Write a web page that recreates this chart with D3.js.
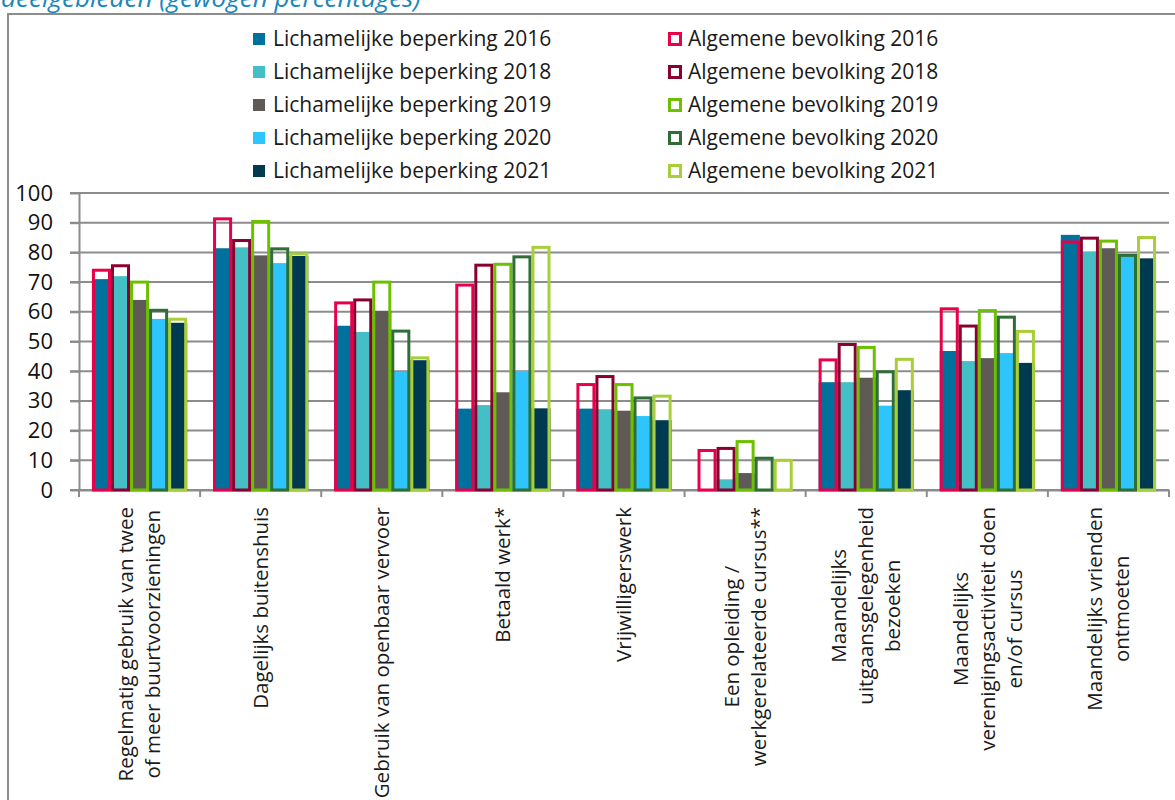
<!DOCTYPE html>
<html>
<head>
<meta charset="utf-8">
<script src="https://cdn.jsdelivr.net/npm/d3@7"></script>
<style>
  body { margin: 0; background: #fff; }
  svg text { font-family: "Open Sans", sans-serif; fill: #1a1a1a; }
</style>
</head>
<body>
<svg id="chart" width="1175" height="800"></svg>
<script>
// categories, lines split with \n
var categories = [
  "Regelmatig gebruik van twee\nof meer buurtvoorzieningen",
  "Dagelijks buitenshuis",
  "Gebruik van openbaar vervoer",
  "Betaald werk*",
  "Vrijwilligerswerk",
  "Een opleiding /\nwerkgerelateerde cursus**",
  "Maandelijks\nuitgaansgelegenheid\nbezoeken",
  "Maandelijks\nverenigingsactiviteit doen\nen/of cursus",
  "Maandelijks vrienden\nontmoeten"
];

// filled bars: lichamelijke beperking
var lichNames = ["Lichamelijke beperking 2016", "Lichamelijke beperking 2018", "Lichamelijke beperking 2019",
                 "Lichamelijke beperking 2020", "Lichamelijke beperking 2021"];
var lich2016 = [71.0, 81.4, 55.3, 27.4, 27.4, 0,   36.3, 46.8, 85.9];
var lich2018 = [72.0, 81.7, 53.2, 28.6, 27.2, 3.6, 36.3, 43.4, 80.2];
var lich2019 = [64.0, 79.0, 60.3, 32.9, 26.7, 5.7, 37.8, 44.4, 81.4];
var lich2020 = [57.6, 76.4, 39.8, 40.1, 24.9, 0,   28.4, 46.1, 79.0];
var lich2021 = [56.3, 78.8, 43.7, 27.5, 23.5, 0,   33.6, 42.8, 78.0];

// outlined bars: algemene bevolking
var algNames = ["Algemene bevolking 2016", "Algemene bevolking 2018", "Algemene bevolking 2019",
                "Algemene bevolking 2020", "Algemene bevolking 2021"];
var alg2016 = [74.0, 91.3, 63.0, 69.0, 35.5, 13.3, 43.8, 61.0, 83.5];
var alg2018 = [75.5, 84.0, 64.0, 75.7, 38.2, 14.0, 49.0, 55.2, 84.8];
var alg2019 = [70.0, 90.4, 70.0, 76.0, 35.5, 16.3, 48.0, 60.4, 83.8];
var alg2020 = [60.5, 81.2, 53.5, 78.5, 31.0, 10.7, 39.8, 58.2, 79.0];
var alg2021 = [57.5, 79.5, 44.5, 81.7, 31.6, 10.0, 44.0, 53.4, 85.0];

var yTicks = [0, 10, 20, 30, 40, 50, 60, 70, 80, 90, 100];

var lichSeries = [lich2016, lich2018, lich2019, lich2020, lich2021];
var algSeries = [alg2016, alg2018, alg2019, alg2020, alg2021];
var fillColors = ["#00709d", "#43bfc5", "#5f5a56", "#2ec5fc", "#003a50"];
var lineColors = ["#e8004b", "#8a0030", "#6cc000", "#2f6e36", "#a9cf38"];

var svg = d3.select("#chart");

// title (cut off at the top like in the report)
svg.append("text").attr("x", 1).attr("y", 7)
  .style("font-size", "26px").style("font-style", "italic").style("fill", "#1b87b8")
  .text("deelgebieden (gewogen percentages)");

// chart frame
svg.append("rect").attr("x", 8).attr("y", 14).attr("width", 1180).attr("height", 800)
  .attr("fill", "none").attr("stroke", "#8c8c8c").attr("stroke-width", 2);

// plot area (not named top/left: window.top is read only)
var plotL = 79, plotR = 1169, plotT = 193, plotB = 490;
var x0 = d3.scaleBand().domain(categories).range([plotL, plotR]).padding(0);
var x1 = d3.scaleBand().domain(d3.range(5)).range([0, x0.bandwidth()]).paddingInner(0).paddingOuter(0.68);
var y = d3.scaleLinear().domain([0, 100]).range([plotB, plotT]);

// gridlines
svg.append("g").selectAll("line").data(yTicks).enter().append("line")
  .attr("x1", plotL - 9).attr("x2", plotR)
  .attr("y1", function (d) { return y(d); }).attr("y2", function (d) { return y(d); })
  .attr("stroke", "#8c8c8c").attr("stroke-width", 2);

// y axis
var yAxis = d3.axisLeft(y).tickValues(yTicks).tickSize(9).tickSizeOuter(0).tickPadding(17);
var yg = svg.append("g").attr("transform", "translate(" + plotL + ",0)").call(yAxis);
yg.attr("font-family", null).attr("font-size", null);
yg.select(".domain").attr("stroke", "#8c8c8c").attr("stroke-width", 2);
yg.selectAll(".tick line").attr("stroke", "#8c8c8c").attr("stroke-width", 2);
yg.selectAll(".tick text").style("font-size", "22px").style("fill", "#111");

// x axis baseline + category boundary ticks
var xAxis = d3.axisBottom(x0).tickSize(0).tickFormat("");
var xg = svg.append("g").attr("transform", "translate(0," + plotB + ")").call(xAxis);
xg.select(".domain").attr("stroke", "#8c8c8c").attr("stroke-width", 2);
var bounds = categories.map(function (c) { return x0(c); }).concat([plotR]);
svg.append("g").selectAll("line").data(bounds).enter().append("line")
  .attr("x1", function (d) { return d; }).attr("x2", function (d) { return d; })
  .attr("y1", plotB).attr("y2", plotB + 7)
  .attr("stroke", "#8c8c8c").attr("stroke-width", 2);

// filled bars
lichSeries.forEach(function (vals, s) {
  svg.append("g").selectAll("rect").data(vals).enter().append("rect")
    .attr("x", function (d, i) { return x0(categories[i]) + x1(s); })
    .attr("y", function (d) { return y(d); })
    .attr("width", x1.bandwidth())
    .attr("height", function (d) { return plotB - y(d); })
    .attr("fill", fillColors[s]);
});

// outlined bars on top
algSeries.forEach(function (vals, s) {
  svg.append("g").selectAll("rect").data(vals).enter().append("rect")
    .attr("x", function (d, i) { return x0(categories[i]) + x1(s) + 1.5; })
    .attr("y", function (d) { return y(d); })
    .attr("width", x1.bandwidth() - 3)
    .attr("height", function (d) { return plotB - y(d); })
    .attr("fill", "none").attr("stroke", lineColors[s]).attr("stroke-width", 3);
});

// rotated category labels, lines centred on each other, block ends at the top
var labelTop = 507, lineH = 27;
categories.forEach(function (c) {
  var lines = c.split("\n");
  var cx = x0(c) + x0.bandwidth() / 2;
  var texts = lines.map(function (ln) {
    return svg.append("text").attr("text-anchor", "middle").attr("dy", "0.35em")
      .style("font-size", "20.5px").text(ln);
  });
  var maxLen = d3.max(texts, function (t) { return t.node().getComputedTextLength(); });
  texts.forEach(function (t, i) {
    var tx = cx + (i - (lines.length - 1) / 2) * lineH;
    t.attr("transform", "translate(" + tx + "," + (labelTop + maxLen / 2) + ") rotate(-90)");
  });
});

// legend
var rowY = [39, 72, 105, 138, 171];
var legL = svg.append("g");
lichNames.forEach(function (n, i) {
  legL.append("rect").attr("x", 253).attr("y", rowY[i] - 6).attr("width", 12).attr("height", 12)
    .attr("fill", fillColors[i]);
  legL.append("text").attr("x", 273).attr("y", rowY[i]).attr("dy", "0.35em")
    .style("font-size", "21px").text(n);
});
var legR = svg.append("g");
algNames.forEach(function (n, i) {
  legR.append("rect").attr("x", 669.5).attr("y", rowY[i] - 5.5).attr("width", 11).attr("height", 11)
    .attr("fill", "none").attr("stroke", lineColors[i]).attr("stroke-width", 3);
  legR.append("text").attr("x", 688).attr("y", rowY[i]).attr("dy", "0.35em")
    .style("font-size", "21px").text(n);
});
</script>
</body>
</html>
